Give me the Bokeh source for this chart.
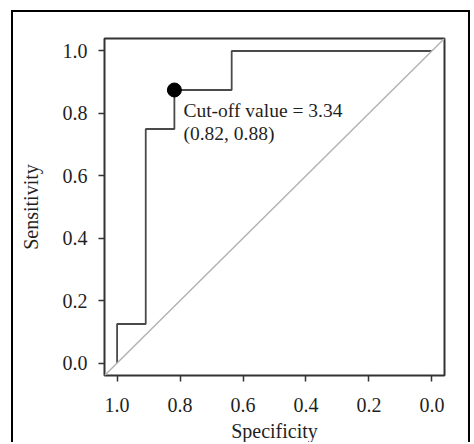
from bokeh.plotting import figure
from bokeh.models import Range1d, FixedTicker, PrintfTickFormatter, Slope, Label
from bokeh.embed import file_html
from bokeh.resources import INLINE

# ROC curve coordinates (specificity, sensitivity)
specificity = [1.0, 1.0, 0.909, 0.909, 0.818, 0.818, 0.636, 0.636, 0.0]
sensitivity = [0.0, 0.125, 0.125, 0.75, 0.75, 0.875, 0.875, 1.0, 1.0]

# best cut-off point
cut_spec = [0.818]
cut_sens = [0.875]
cut_text1 = "Cut-off value = 3.34"
cut_text2 = "(0.82, 0.88)"

ticks = [1.0, 0.8, 0.6, 0.4, 0.2, 0.0]

FONT = "Liberation Serif"
TXT = "#1f1f1f"

p = figure(width=459, height=432, output_backend="svg", toolbar_location=None,
           x_range=Range1d(1.04, -0.04), y_range=Range1d(-0.04, 1.04),
           min_border_left=91, min_border_right=28, min_border_top=26, min_border_bottom=67,
           background_fill_color="white", border_fill_color="white")
p.styles = {"margin-left": "11px", "margin-top": "10px",
            "border-left": "2px solid black", "border-top": "2px solid black",
            "border-right": "2px solid black"}

p.grid.visible = False
p.outline_line_color = "#333333"
p.outline_line_width = 2

for ax in (p.xaxis[0], p.yaxis[0]):
    ax.ticker = FixedTicker(ticks=ticks)
    ax.formatter = PrintfTickFormatter(format="%.1f")
    ax.axis_line_color = None
    ax.major_tick_line_color = "#333333"
    ax.major_tick_line_width = 1.5
    ax.major_tick_out = 6
    ax.major_tick_in = 0
    ax.minor_tick_line_color = None
    ax.major_label_text_font = FONT
    ax.major_label_text_font_size = "20px"
    ax.major_label_text_color = TXT
    ax.axis_label_text_font = FONT
    ax.axis_label_text_font_size = "20px"
    ax.axis_label_text_font_style = "normal"
    ax.axis_label_text_color = TXT

p.xaxis.axis_label = "Specificity"
p.yaxis.axis_label = "Sensitivity"
p.xaxis.major_label_standoff = 16
p.xaxis.axis_label_standoff = 5
p.yaxis.major_label_standoff = 11
p.yaxis.axis_label_standoff = 18

# chance diagonal
p.add_layout(Slope(gradient=-1, y_intercept=1, line_color="#b3b3b3", line_width=1.5))

# ROC curve
p.line(specificity, sensitivity, line_color="#4a4a4a", line_width=1.8)

# cut-off point
p.scatter(cut_spec, cut_sens, size=14, marker="circle", fill_color="black", line_color="black")

for txt, dy in ((cut_text1, -21), (cut_text2, -44)):
    p.add_layout(Label(x=cut_spec[0], y=cut_sens[0], text=txt, x_offset=9, y_offset=dy,
                       text_font=FONT, text_font_size="19.5px", text_color=TXT,
                       text_baseline="alphabetic", text_align="left"))

open("out.html", "w").write(file_html(p, INLINE))
